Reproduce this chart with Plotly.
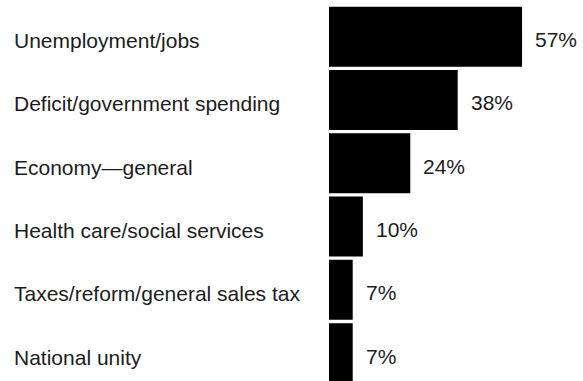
import plotly.graph_objects as go

# Most important problems named by respondents (share of respondents, %)
categories = [
    "Unemployment/jobs",
    "Deficit/government spending",
    "Economy\u2014general",
    "Health care/social services",
    "Taxes/reform/general sales tax",
    "National unity",
]
values = [57, 38, 24, 10, 7, 7]
value_labels = [f"{v}%" for v in values]

FONT = dict(family="Liberation Sans, Arial, Helvetica, sans-serif", size=21, color="#1c1c1c")

fig = go.Figure(
    go.Bar(
        x=values,
        y=categories,
        orientation="h",
        marker=dict(color="#000000", line=dict(width=0)),
        hoverinfo="skip",
    )
)

annotations = []
# Category names, left-aligned in the left margin area
for cat in categories:
    annotations.append(
        dict(
            x=12 / 583, xref="paper", xanchor="left",
            y=cat, yref="y", yanchor="middle", yshift=-4,
            text=cat, showarrow=False, font=FONT,
        )
    )
# Percentages just past the bar ends
for cat, v, lab in zip(categories, values, value_labels):
    annotations.append(
        dict(
            x=v, xref="x", xanchor="left", xshift=11,
            y=cat, yref="y", yanchor="middle", yshift=-3,
            text=lab, showarrow=False, font=FONT,
        )
    )

fig.update_layout(
    width=583,
    height=381,
    margin=dict(l=0, r=0, t=5, b=0),
    paper_bgcolor="white",
    plot_bgcolor="white",
    bargap=0.052,
    showlegend=False,
    annotations=annotations,
    xaxis=dict(
        domain=[329 / 583, 1],
        range=[0, 75],
        visible=False,
        fixedrange=True,
    ),
    yaxis=dict(
        categoryorder="array",
        categoryarray=categories,
        range=[5.44, -0.5],
        visible=False,
        fixedrange=True,
    ),
)

fig.write_html("out.html", config={"displayModeBar": False})
